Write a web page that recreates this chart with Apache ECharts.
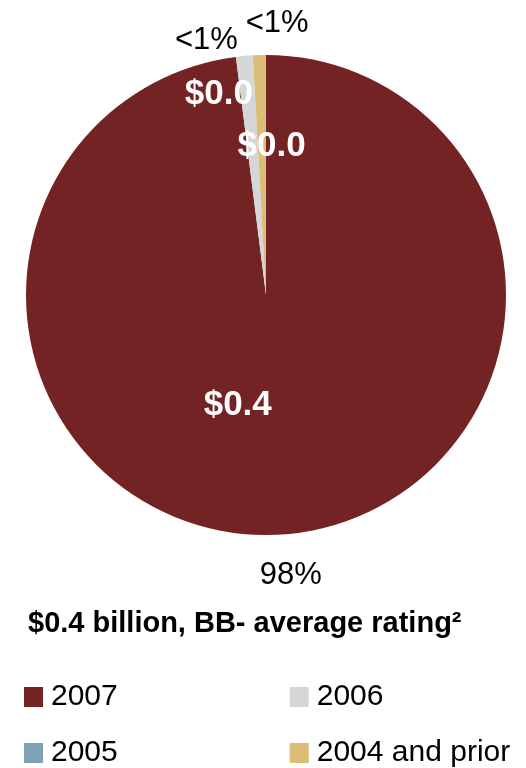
<!DOCTYPE html>
<html>
<head>
<meta charset="utf-8">
<script src="https://cdn.jsdelivr.net/npm/echarts@6/dist/echarts.min.js"></script>
<style>
html,body{margin:0;padding:0;background:#fff;}
#chart{width:526px;height:768px;}
</style>
</head>
<body>
<div id="chart"></div>
<script>
// ---- data ----
const categories = ['2007', '2006', '2005', '2004 and prior'];
const values = [0.392, 0.0045, 0, 0.0035];          // $ billion
const valueLabels = ['$0.4', '$0.0', '', '$0.0'];
const percentLabels = ['98%', '<1%', '', '<1%'];
const titleText = '$0.4 billion, BB- average rating\u00B2';

// ---- styles ----
const colors = ['#742325', '#d5d6d8', '#7fa1b5', '#dcbd76'];
const FONT = '"Liberation Sans", Arial, Helvetica, sans-serif';
const valueOffsets = [[-36, -12], [-36, -78], [0, 0], [9, -26]];
const pctOffsets = [[7, -2], [-34, 27], [0, 0], [19, 11]];

const chart = echarts.init(document.getElementById('chart'), null, {renderer: 'canvas'});

const mainData = categories.map((c, i) => ({
  name: c,
  value: values[i],
  itemStyle: {color: colors[i]},
  label: {
    show: valueLabels[i] !== '',
    formatter: valueLabels[i],
    offset: valueOffsets[i]
  }
}));

const pctData = categories.map((c, i) => ({
  name: c,
  value: values[i],
  itemStyle: {color: 'rgba(0,0,0,0)'},
  label: {
    show: percentLabels[i] !== '',
    formatter: percentLabels[i],
    offset: pctOffsets[i]
  }
}));

const legendCommon = {
  left: 24,
  padding: 0,
  orient: 'horizontal',
  icon: 'rect',
  itemWidth: 19,
  itemHeight: 20,
  itemGap: 172,
  selectedMode: false,
  textStyle: {fontFamily: FONT, fontSize: 30, color: '#000', padding: [0, 0, 0, 3]}
};

chart.setOption({
  animation: false,
  backgroundColor: '#fff',
  title: {
    text: titleText,
    left: 28,
    top: 609,
    padding: 0,
    textStyle: {fontFamily: FONT, fontSize: 29, fontWeight: 'bold', color: '#000'}
  },
  legend: [
    Object.assign({}, legendCommon, {top: 682, data: categories.slice(0, 2)}),
    Object.assign({}, legendCommon, {top: 738, data: categories.slice(2, 4)})
  ],
  series: [
    {
      type: 'pie',
      center: [266, 295],
      radius: [0, 240],
      startAngle: 90,
      clockwise: true,
      avoidLabelOverlap: false,
      silent: true,
      label: {
        position: 'inside',
        color: '#fff',
        fontFamily: FONT,
        fontSize: 35,
        fontWeight: 'bold'
      },
      labelLine: {show: false},
      itemStyle: {borderWidth: 0},
      emphasis: {disabled: true},
      data: mainData
    },
    {
      type: 'pie',
      center: [266, 295],
      radius: [240, 320],
      startAngle: 90,
      clockwise: true,
      avoidLabelOverlap: false,
      silent: true,
      z: 1,
      label: {
        position: 'inside',
        color: '#000',
        fontFamily: FONT,
        fontSize: 31
      },
      labelLine: {show: false},
      itemStyle: {borderWidth: 0},
      emphasis: {disabled: true},
      data: pctData
    }
  ]
});
</script>
</body>
</html>
